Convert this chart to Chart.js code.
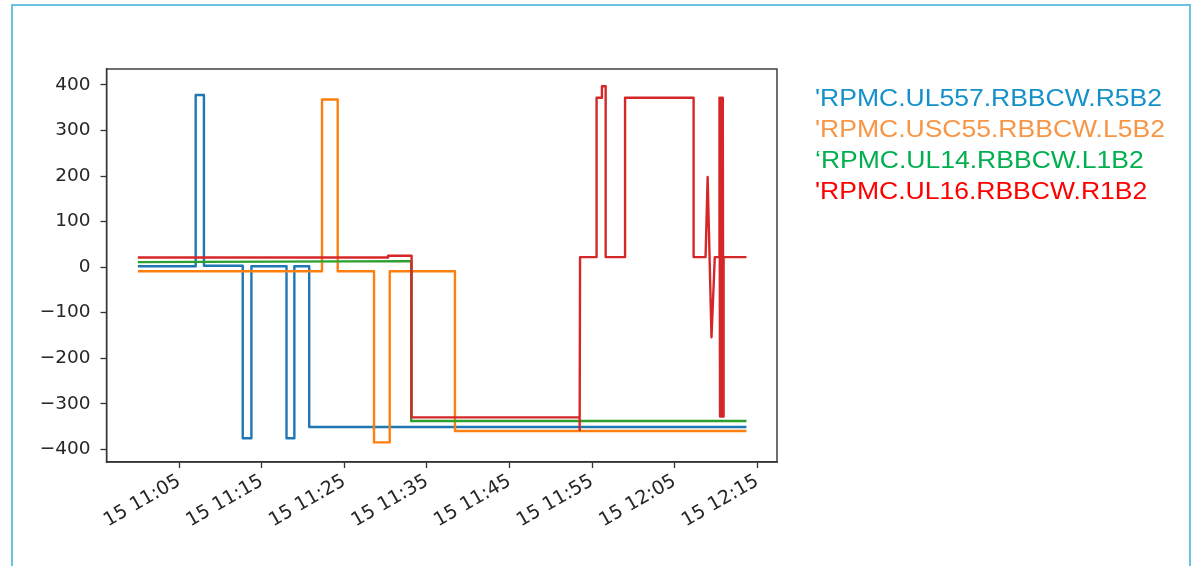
<!DOCTYPE html>
<html>
<head>
<meta charset="utf-8">
<script src="https://cdn.jsdelivr.net/npm/chart.js@4.4.1/dist/chart.umd.min.js"></script>
<style>
    html, body { margin: 0; padding: 0; background: #fff; }
    #wrap { position: relative; width: 1194px; height: 566px; overflow: hidden; }
    #frame {
        position: absolute; left: 11px; top: 4px; width: 1176px; height: 600px;
        border: 2px solid #6cc3e1; pointer-events: none;
    }
    #names {
        position: absolute; left: 815px; top: 82px;
        font-family: 'Liberation Sans', Arial, sans-serif; font-size: 24px; line-height: 31px;
        white-space: nowrap; transform: scaleX(1.105); transform-origin: 0 0;
    }
</style>
</head>
<body>
<div id="wrap">
    <canvas id="chart" width="1194" height="566"></canvas>
    <div id="frame"></div>
    <div id="names"></div>
</div>
<script>
// series names and colours (text block on the right)
const seriesNames = ["'RPMC.UL557.RBBCW.R5B2", "'RPMC.USC55.RBBCW.L5B2", '\u2018RPMC.UL14.RBBCW.L1B2', "'RPMC.UL16.RBBCW.R1B2"];
const nameColors = ['#1591c9', '#f79646', '#00b050', '#ff0000'];
const lineColors = ['#1f77b4', '#ff7f0e', '#2ca02c', '#d62728'];

// x tick labels (day 15)
const tickTimes = ['11:05', '11:15', '11:25', '11:35', '11:45', '11:55', '12:05', '12:15'];

// readings, times as h:mm:ss
const blueTimes = ['11:00:00', '11:07:00', '11:07:00', '11:08:00', '11:08:00', '11:12:42', '11:12:42', '11:13:45', '11:13:45', '11:18:00', '11:18:00', '11:18:57', '11:18:57', '11:20:45', '11:20:45', '12:13:42'];
const blueValues = [2, 2, 378, 378, 3, 3, -376, -376, 2, 2, -376, -376, 2, 2, -351, -351];

const orangeTimes = ['11:00:00', '11:22:18', '11:22:18', '11:24:12', '11:24:12', '11:28:36', '11:28:36', '11:30:30', '11:30:30', '11:38:24', '11:38:24', '12:13:42'];
const orangeValues = [-9, -9, 368, 368, -9, -9, -385, -385, -9, -9, -360, -360];

const greenTimes = ['11:00:00', '11:33:06', '11:33:06', '12:13:42'];
const greenValues = [11, 13, -338, -338];

const redTimes = ['11:00:00', '11:30:18', '11:30:18', '11:33:09', '11:33:09', '11:53:30', '11:53:30', '11:53:33', '11:55:33', '11:55:33', '11:56:12', '11:56:12', '11:56:39', '11:56:39', '11:59:00', '11:59:00', '12:07:18', '12:07:18', '12:08:45', '12:09:00', '12:09:28', '12:09:52', '12:10:24',
    '12:10:26', '12:10:30', '12:10:34', '12:10:38', '12:10:42', '12:10:46', '12:10:50', '12:10:54', '12:10:56', '12:13:42'];
const redValues = [21, 21, 25, 25, -330, -330, -358, 22, 22, 372, 372, 397, 397, 22, 22, 372, 372, 22, 22, 198, -154, 22, 22,
    372, -328, 372, -328, 372, -328, 372, -328, 22, 22];

function toMin(s) {
    const p = s.split(':').map(Number);
    return p[0] * 60 + p[1] + (p[2] || 0) / 60;
}

function pad2(n) { return (n < 10 ? '0' : '') + n; }

function pts(times, values) {
    return times.map((t, i) => ({ x: toMin(t), y: values[i] }));
}

// legend text as plain html
document.getElementById('names').innerHTML = seriesNames
    .map((n, i) => `<div style="color:${nameColors[i]}">${n}</div>`).join('');

// matplotlib style box around the plot
const boxPlugin = {
    id: 'box',
    afterDraw(chart) {
        const a = chart.chartArea, ctx = chart.ctx;
        ctx.save();
        ctx.strokeStyle = '#333';
        ctx.lineWidth = 1.4;
        ctx.strokeRect(a.left, a.top, a.right - a.left, a.bottom - a.top);
        ctx.restore();
    }
};

const series = [
    pts(blueTimes, blueValues),
    pts(orangeTimes, orangeValues),
    pts(greenTimes, greenValues),
    pts(redTimes, redValues),
];

const tickFont = { family: 'DejaVu Sans', size: 18.5 };

new Chart(document.getElementById('chart').getContext('2d'), {
    type: 'line',
    data: {
        datasets: series.map((d, i) => ({
            data: d,
            borderColor: lineColors[i],
            borderWidth: 2.4,
            borderJoinStyle: 'round',
            pointRadius: 0,
            fill: false,
            tension: 0,
            order: series.length - i,
        })),
    },
    options: {
        responsive: false,
        animation: false,
        devicePixelRatio: 1,
        layout: { padding: { left: 0, top: 69, right: 417, bottom: 0 } },
        plugins: { legend: { display: false }, tooltip: { enabled: false } },
        scales: {
            x: {
                type: 'linear',
                min: toMin('10:56:12'),
                max: toMin('12:17:24'),
                afterBuildTicks: s => { s.ticks = tickTimes.map(t => ({ value: toMin(t) })); },
                afterFit: s => { s.height = 104; },
                grid: { drawOnChartArea: false, tickLength: 6, tickColor: '#333', tickWidth: 1.3 },
                border: { color: '#333', width: 1.4 },
                ticks: {
                    font: { family: 'DejaVu Sans', size: 19 }, color: '#262626', minRotation: 30, maxRotation: 30, padding: 2,
                    callback: v => '15 ' + pad2(Math.floor(v / 60)) + ':' + pad2(Math.round(v % 60)),
                },
            },
            y: {
                min: -428,
                max: 435,
                afterFit: s => { s.width = 106.5; },
                grid: { drawOnChartArea: false, tickLength: 6, tickColor: '#333', tickWidth: 1.3 },
                border: { color: '#333', width: 1.4 },
                ticks: {
                    font: tickFont, color: '#262626', stepSize: 100, includeBounds: false, padding: 10,
                    callback: v => v < 0 ? '\u2212' + Math.abs(v) : String(v),
                },
            },
        },
    },
    plugins: [boxPlugin],
});
</script>
</body>
</html>
